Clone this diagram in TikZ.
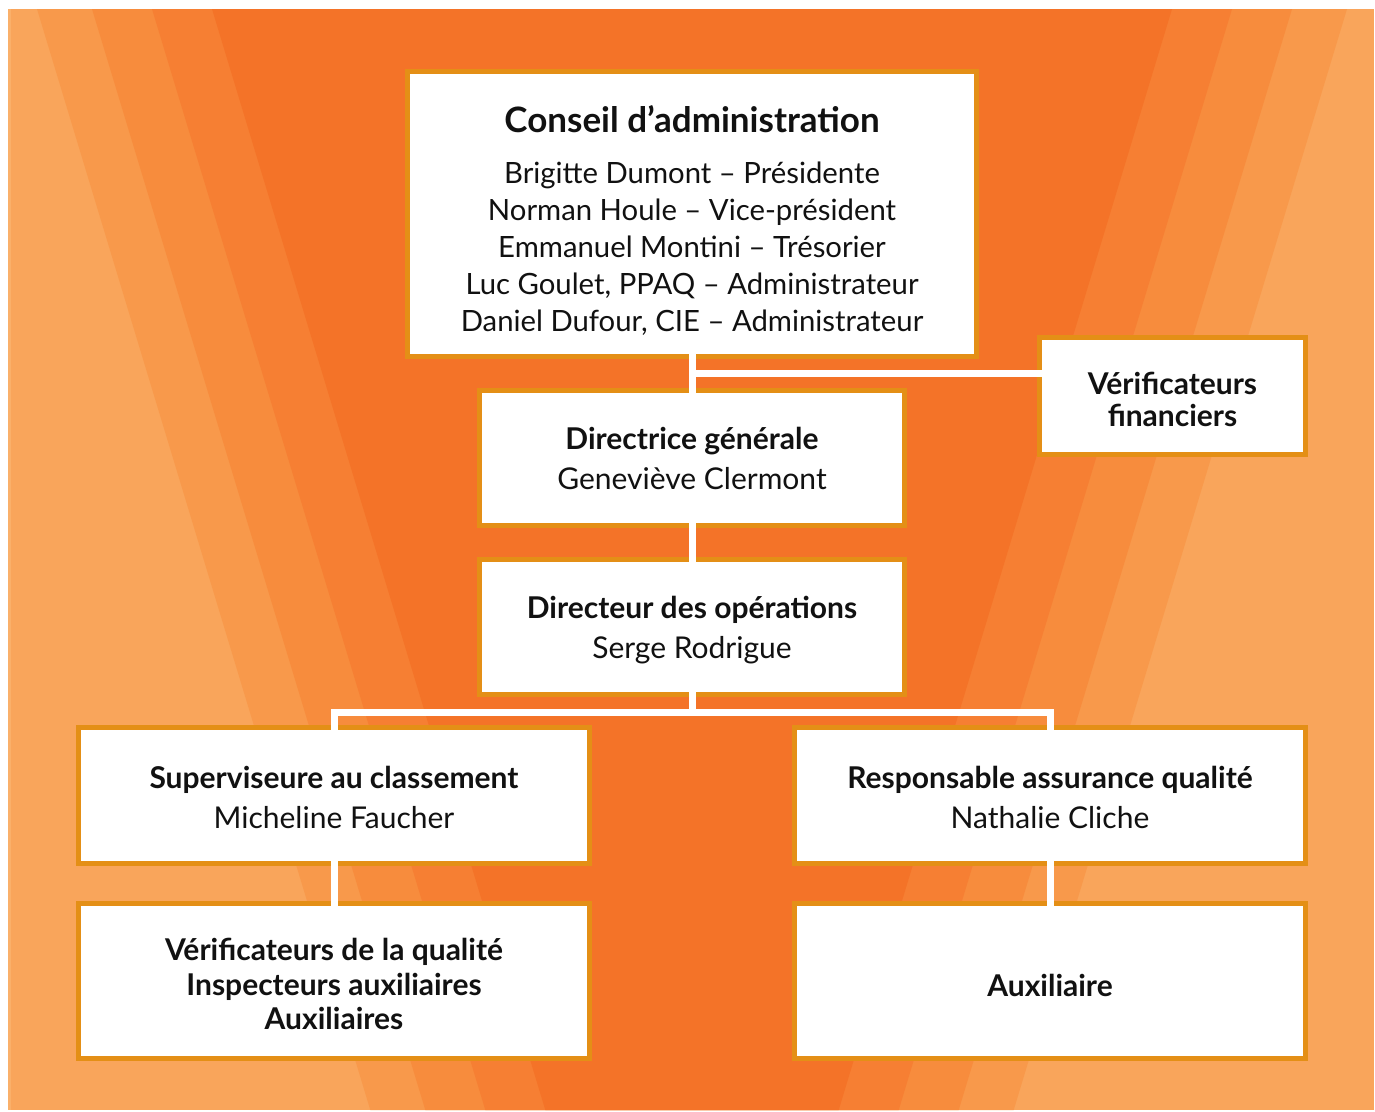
\documentclass[tikz,border=0pt]{standalone}
\usepackage{fontspec}
\setmainfont{Lato}
\definecolor{bandA}{RGB}{244,115,40}
\definecolor{bandB}{RGB}{246,127,51}
\definecolor{bandC}{RGB}{247,140,61}
\definecolor{bandD}{RGB}{248,153,75}
\definecolor{bandE}{RGB}{249,165,91}
\definecolor{bandF}{RGB}{250,176,106}
\definecolor{frameC}{RGB}{228,143,22}
\definecolor{inkC}{RGB}{17,17,17}
\tikzset{
  box/.style n args={2}{draw=frameC, line width=5pt, fill=white, inner sep=0pt,
    minimum width=#1, minimum height=#2, align=center, text=inkC},
  conn/.style={draw=white, line width=7pt},
}
\begin{document}
\begin{tikzpicture}[x=1pt,y=-1pt]
\useasboundingbox (0,0) rectangle (1375,1111);
\fill[white] (0,0) rectangle (1375,1111);
% background bands
\fill[bandE] (8,9) rectangle (1374,1110);
\fill[bandF] (8,9) rectangle (11,1110);
\fill[bandD] (37,9) -- (1347,9) -- (1013.7,1110) -- (370.3,1110) -- cycle;
\fill[bandC] (92,9) -- (1292,9) -- (958.7,1110) -- (425.3,1110) -- cycle;
\fill[bandB] (152,9) -- (1232,9) -- (898.7,1110) -- (485.3,1110) -- cycle;
\fill[bandA] (212,9) -- (1172,9) -- (838.7,1110) -- (545.3,1110) -- cycle;
% boxes
\node[box={569}{285}, font=\fontsize{29.3}{37}\selectfont] (ca) at (692,214)
  {\rule{0pt}{45pt}{\fontsize{35}{37}\selectfont\bfseries Conseil d’administration}\\[14pt]
   Brigitte Dumont – Présidente\\
   Norman Houle – Vice-président\\
   Emmanuel Montini – Trésorier\\
   Luc Goulet, PPAQ – Administrateur\\
   Daniel Dufour, CIE – Administrateur\rule[-10pt]{0pt}{0pt}};
\node[box={266}{117}, font=\fontsize{30}{32}\selectfont\bfseries] (vf) at (1172.5,396)
  {\rule{0pt}{29.5pt}Vérificateurs\\financiers\rule[-0.5pt]{0pt}{0pt}};
\node[box={425}{135}, font=\fontsize{30}{40}\selectfont] (dg) at (692,458)
  {\rule{0pt}{29.5pt}{\bfseries Directrice générale}\\Geneviève Clermont\rule[-7.5pt]{0pt}{0pt}};
\node[box={425}{135}, font=\fontsize{30}{40}\selectfont] (do) at (692,627)
  {\rule{0pt}{29.5pt}{\bfseries Directeur des opérations}\\Serge Rodrigue\rule[-7.5pt]{0pt}{0pt}};
\node[box={511}{136}, font=\fontsize{30}{40}\selectfont] (sup) at (334,795.5)
  {\rule{0pt}{29.5pt}{\bfseries Superviseure au classement}\\Micheline Faucher\rule[-3.5pt]{0pt}{0pt}};
\node[box={511}{136}, font=\fontsize{30}{40}\selectfont] (resp) at (1050,795.5)
  {\rule{0pt}{29.5pt}{\bfseries Responsable assurance qualité}\\Nathalie Cliche\rule[-3.5pt]{0pt}{0pt}};
\node[box={511}{155}, font=\fontsize{30}{34.5}\selectfont\bfseries] (vq) at (334,981)
  {\rule{0pt}{29.5pt}Vérificateurs de la qualité\\Inspecteurs auxiliaires\\Auxiliaires\rule[-1pt]{0pt}{0pt}};
\node[box={511}{155}, font=\fontsize{30}{34.5}\selectfont\bfseries] (aux) at (1050,981)
  {\rule{0pt}{32pt}Auxiliaire\rule[-0.6pt]{0pt}{0pt}};
% connectors
\coordinate (j1) at (692,373);
\coordinate (j2) at (692,712);
\draw[conn] ([yshift=5pt]ca.south) -- ([yshift=-5pt]dg.north);
\draw[conn] (j1) -- ([xshift=5pt]vf.west |- j1);
\draw[conn] ([yshift=5pt]dg.south) -- ([yshift=-5pt]do.north);
\draw[conn] ([yshift=5pt]do.south) -- (j2);
\draw[conn] ([yshift=-5pt]sup.north) |- (j2) -| ([yshift=-5pt]resp.north);
\draw[conn] ([yshift=5pt]sup.south) -- ([yshift=-5pt]vq.north);
\draw[conn] ([yshift=5pt]resp.south) -- ([yshift=-5pt]aux.north);
\end{tikzpicture}
\end{document}
